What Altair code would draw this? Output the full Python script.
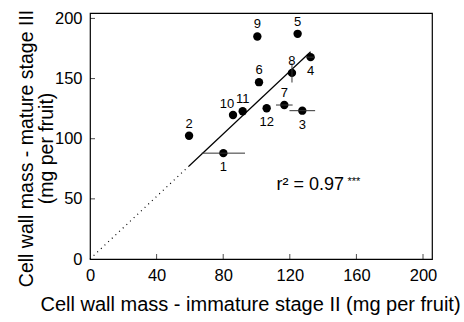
import altair as alt
import pandas as pd

# ---- data ----
ids = ["1", "2", "3", "4", "5", "6", "7", "8", "9", "10", "11", "12"]
immature = [80.1, 59.5, 127.5, 132.5, 124.7, 101.5, 116.7, 121.3, 100.5, 85.9, 91.7, 106.1]
mature = [88.0, 102.5, 123.3, 167.8, 187.2, 147.0, 128.0, 154.7, 185.0, 119.7, 122.8, 125.3]
x_err = [13.0, 0, 7.7, 2.5, 0, 0, 5.0, 0, 0, 0, 0, 0]
y_err = [0, 0, 0, 0, 0, 0, 0, 8.0, 0, 0, 0, 0]
label_pos = ["below", "above", "below", "below", "above", "above", "above",
             "above", "above", "aboveleft", "above", "below"]

slope = 1.3
fit_solid_x = [59.5, 132.5]
fit_dotted_x = [0.0, 59.5]

x_ticks = [40, 80, 120, 160, 200]
y_ticks = [50, 100, 150, 200]

r2_text = "r² = 0.97"
r2_stars = "***"
r2_x = [112.0]
r2_y = [61.7]

# ---- tables ----
df = pd.DataFrame({
    "id": ids, "x": immature, "y": mature, "pos": label_pos,
    "xlo": [a - e for a, e in zip(immature, x_err)],
    "xhi": [a + e for a, e in zip(immature, x_err)],
    "ylo": [a - e for a, e in zip(mature, y_err)],
    "yhi": [a + e for a, e in zip(mature, y_err)],
})
fit_solid = pd.DataFrame({"x": fit_solid_x, "y": [slope * v for v in fit_solid_x]})
fit_dotted = pd.DataFrame({"x": fit_dotted_x, "y": [slope * v for v in fit_dotted_x]})
xt = pd.DataFrame({"v": x_ticks})
yt = pd.DataFrame({"v": y_ticks})
r2 = pd.DataFrame({"x": r2_x, "y": r2_y})

FONT = "Liberation Sans"
xs = alt.Scale(domain=[0, 205.4], nice=False, zero=False)
ys = alt.Scale(domain=[0, 204.5], nice=False, zero=False)

x_axis = alt.Axis(values=[0, 40, 80, 120, 160, 200], ticks=False, domain=False, grid=False,
                  labelFontSize=16.5, labelPadding=8, labelColor="black", labelFont=FONT,
                  labelFlush=False,
                  title="Cell wall mass - immature stage II (mg per fruit)",
                  titleFontSize=20, titleFontWeight="normal", titleFont=FONT,
                  titleColor="black", titlePadding=11, titleX=160)
y_axis = alt.Axis(values=[0, 50, 100, 150, 200], ticks=False, domain=False, grid=False,
                  labelFontSize=16.5, labelPadding=8, labelColor="black", labelFont=FONT,
                  labelFlush=False,
                  title=["Cell wall mass - mature stage III", "(mg per fruit)"],
                  titleFontSize=19.5, titleFontWeight="normal", titleFont=FONT,
                  titleColor="black", titleLineHeight=20, titleX=-54, titleY=135)


def X(field):
    return alt.X(field, scale=xs, axis=x_axis)


def Y(field):
    return alt.Y(field, scale=ys, axis=y_axis)


points = alt.Chart(df).mark_point(filled=True, color="black", size=70, opacity=1).encode(
    x=X("x:Q"), y=Y("y:Q"))

xbars = alt.Chart(df).mark_rule(color="#333", strokeWidth=1).encode(
    x=X("xlo:Q"), x2="xhi:Q", y=Y("y:Q"))
ybars = alt.Chart(df).mark_rule(color="#333", strokeWidth=1).encode(
    x=X("x:Q"), y=Y("ylo:Q"), y2="yhi:Q")

line_solid = alt.Chart(fit_solid).mark_line(color="black", strokeWidth=1.2).encode(
    x=X("x:Q"), y=Y("y:Q"))
line_dotted = alt.Chart(fit_dotted).mark_line(color="black", strokeWidth=1.2,
                                              strokeDash=[1, 4]).encode(
    x=X("x:Q"), y=Y("y:Q"))


def labels(pos, dx, dy):
    return alt.Chart(df).transform_filter(alt.datum.pos == pos).mark_text(
        font=FONT, fontSize=13, color="black", dx=dx, dy=dy, baseline="middle"
    ).encode(x=X("x:Q"), y=Y("y:Q"), text="id:N")


lab_above = labels("above", 0, -12)
lab_below = labels("below", 0, 14)
lab_al = labels("aboveleft", -6, -11)

xtick = alt.Chart(xt).mark_tick(color="black", orient="vertical", size=10,
                                thickness=1, clip=True).encode(
    x=X("v:Q"), y=alt.datum(0))
ytick = alt.Chart(yt).mark_tick(color="black", orient="horizontal", size=10,
                                thickness=1, clip=True).encode(
    y=Y("v:Q"), x=alt.datum(0))

r2a = alt.Chart(r2).mark_text(font=FONT, fontSize=18, align="left", baseline="middle",
                              color="black").encode(
    x=X("x:Q"), y=Y("y:Q"), text=alt.value(r2_text))
r2b = alt.Chart(r2).mark_text(font=FONT, fontSize=11, align="left", baseline="middle",
                              color="black", dx=71, dy=-3).encode(
    x=X("x:Q"), y=Y("y:Q"), text=alt.value(r2_stars))

chart = alt.layer(
    points, line_dotted, line_solid, xbars, ybars, xtick, ytick,
    lab_above, lab_below, lab_al, r2a, r2b
).properties(
    width=342, height=246,
    padding={"left": 90, "top": 13, "right": 32, "bottom": 63},
    autosize=alt.AutoSizeParams(type="none"),
).configure(
    background="white",
    view=alt.ViewConfig(stroke="black", strokeWidth=1.2),
)

chart.save("out.html", embed_options={"renderer": "svg", "actions": False})
